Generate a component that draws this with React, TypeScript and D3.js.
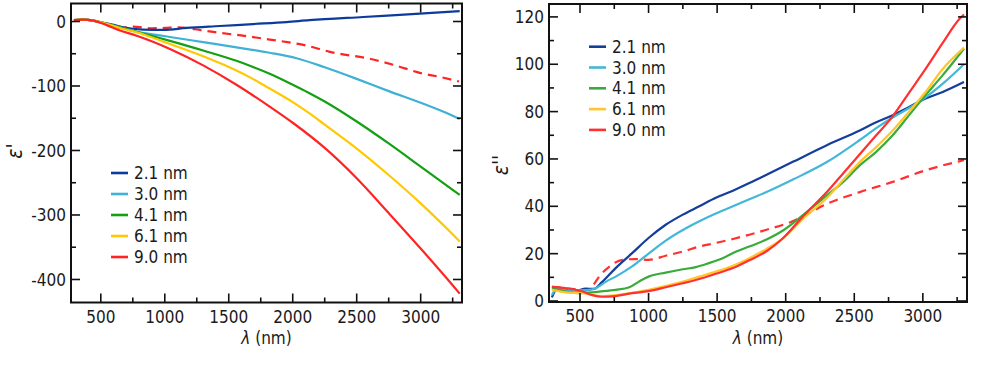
import React from "react";
import * as d3 from "d3";

type Pt = [number, number];

// ---------- Left panel: epsilon' ----------
const left21: Pt[] = [[290,2],[360,3],[450,1],[520,-2],[600,-5],[675,-9],[830,-12.5],[990,-13],[1170,-10],[1430,-7],[1690,-4],[1950,-1],[2130,2],[2550,7],[2900,11],[3305,16]];
const left30: Pt[] = [[290,2],[360,3],[450,1],[550,-4],[650,-9],[780,-15.6],[1040,-24],[1300,-32],[1560,-40],[1820,-48.5],[2030,-57],[2250,-71],[2500,-89],[2750,-108],[3000,-126],[3250,-146],[3305,-151]];
const left41: Pt[] = [[290,2],[360,3],[450,1],[550,-4],[650,-9],[780,-16],[910,-23],[1040,-30],[1300,-45],[1560,-61],[1670,-69],[1820,-81],[2000,-98],[2120,-110],[2250,-124],[2500,-155],[2750,-189],[3000,-225],[3250,-261],[3305,-269]];
const left61: Pt[] = [[290,2],[360,3],[450,1],[550,-4],[650,-10],[780,-16.6],[1040,-35],[1300,-54],[1560,-76],[1670,-87],[1820,-104],[2000,-125],[2120,-141],[2250,-160],[2500,-197],[2750,-238],[3000,-282],[3250,-330],[3305,-341]];
const left90: Pt[] = [[290,2],[360,3],[450,1],[550,-6],[650,-14],[780,-22],[1040,-42.5],[1300,-68],[1560,-98],[1820,-132],[2000,-157],[2250,-196],[2500,-243],[2750,-297],[3000,-352],[3250,-409],[3305,-422]];
const left90dash: Pt[] = [[290,2],[360,3],[450,1],[550,-5],[650,-10],[750,-8],[900,-10.5],[1000,-10],[1090,-9],[1300,-14],[1450,-18],[1610,-22],[1820,-28],[2100,-37],[2290,-47],[2630,-59],[2800,-68],[3000,-80],[3150,-86],[3300,-93]];

// ---------- Right panel: epsilon'' ----------
const right21: Pt[] = [[295,1.5],[330,5],[380,5.5],[420,4],[490,4.5],[540,5.2],[600,5.1],[660,8],[760,13.9],[880,20.2],[1000,26.6],[1125,32.2],[1250,36.5],[1370,40],[1490,43.6],[1615,46.6],[1735,49.8],[1820,52.2],[2060,59],[2300,65.8],[2540,72],[2660,75.5],[2780,78.5],[2900,82],[3020,85.5],[3145,88.3],[3300,92.5]];
const right30: Pt[] = [[295,2.5],[330,5],[380,5],[420,4],[490,4.5],[565,4.7],[615,5.4],[690,8.2],[760,10.3],[880,14.6],[1000,20],[1125,25.5],[1250,30],[1370,33.7],[1490,37],[1615,40],[1735,43],[1860,46],[2060,51.5],[2300,58.7],[2540,68],[2660,73],[2780,77.5],[2900,81.5],[3020,86],[3150,92],[3300,100]];
const right41: Pt[] = [[295,5.4],[350,4.7],[420,3.7],[490,3.3],[540,3.5],[640,4],[760,4.7],[860,5.8],[930,8.2],[1000,10.3],[1125,12],[1250,13.4],[1345,14.3],[1440,16],[1540,18.1],[1640,20.9],[1735,23],[1860,26],[1980,29.8],[2130,36.5],[2300,44.6],[2420,50.3],[2540,57.3],[2660,63],[2780,70],[2900,78.5],[3020,87],[3145,95.4],[3300,106.6]];
const right61: Pt[] = [[295,4.7],[420,3.5],[520,3.3],[590,2.5],[660,2.1],[760,2.5],[880,3.5],[1000,4.7],[1125,6.4],[1250,8.2],[1370,10.3],[1490,12.4],[1615,14.9],[1735,18.1],[1860,22],[1980,26.5],[2130,35],[2300,43.5],[2420,51.2],[2540,58.7],[2660,65],[2780,72],[2900,80],[3020,88.3],[3145,98],[3300,107]];
const right90: Pt[] = [[295,6],[400,5.4],[520,4],[590,2.5],[660,1.8],[760,2.1],[880,3.3],[1000,4.2],[1125,5.8],[1250,7.5],[1370,9.3],[1490,11.5],[1615,13.9],[1735,17.2],[1860,21],[1980,26.5],[2130,36],[2300,46],[2420,54],[2540,62],[2660,70],[2780,78],[2900,88],[3020,98],[3145,109],[3265,119],[3300,121]];
const right90dash: Pt[] = [[295,6],[400,5.4],[520,4.7],[570,4.7],[600,7],[640,10.3],[710,14.3],[810,17.4],[900,17.7],[1000,17.4],[1125,19.1],[1250,20.9],[1370,23],[1490,24.5],[1615,26.2],[1735,28],[1860,30.1],[2030,33.2],[2100,35],[2300,41],[2540,46],[2780,50.3],[3020,55.2],[3300,59.5]];

const legendLabels = ["2.1 nm", "3.0 nm", "4.1 nm", "6.1 nm", "9.0 nm"];
const leftColors = ["#0c3b9b", "#3fb1d5", "#13a013", "#ffc800", "#ff2424"];
const rightColors = ["#143d9c", "#42b7d8", "#3aab3a", "#ffc52a", "#ff3030"];

const xTicksMajor = [500, 1000, 1500, 2000, 2500, 3000];
const xTicksMinor = [250, 750, 1250, 1750, 2250, 2750, 3250];
const leftYMajor = [0, -100, -200, -300, -400];
const leftYMinor = [-50, -150, -250, -350];
const rightYMajor = [0, 20, 40, 60, 80, 100, 120];
const rightYMinor = [10, 30, 50, 70, 90, 110];

const FONT = "'DejaVu Sans Condensed','DejaVu Sans',sans-serif";
const TXT = "#1a1a1a";

interface PanelProps {
  x0: number; x1: number; y0: number; y1: number;
  xDomain: [number, number]; yDomain: [number, number];
  yMajor: number[]; yMinor: number[];
  solid: Pt[][]; colors: string[]; dashed: Pt[];
  legendX: number; legendY: number; legendStep: number;
  yLabel: string; yLabelX: number; yLabelY: number;
}

function Panel(p: PanelProps) {
  const x = d3.scaleLinear().domain(p.xDomain).range([p.x0, p.x1]);
  const y = d3.scaleLinear().domain(p.yDomain).range([p.y1, p.y0]);
  const line = d3.line<Pt>().x((d) => x(d[0])).y((d) => y(d[1])).curve(d3.curveMonotoneX);
  const majL = 9, minL = 5;
  const xMin = Math.min(...p.xDomain), xMax = Math.max(...p.xDomain);
  const inX = (v: number) => v > xMin && v < xMax;
  const yLo = p.yDomain[0], yHi = p.yDomain[1];
  const inY = (v: number) => v > yLo && v < yHi;
  return (
    <g>
      <clipPath id={`clip${p.x0}`}>
        <rect x={p.x0} y={p.y0} width={p.x1 - p.x0} height={p.y1 - p.y0} />
      </clipPath>
      <g clipPath={`url(#clip${p.x0})`}>
        <path d={line(p.dashed) || ""} fill="none" stroke={p.colors[4]} strokeWidth={2.2} strokeDasharray="9,6" />
        {p.solid.map((s, i) => (
          <path key={i} d={line(s) || ""} fill="none" stroke={p.colors[i]} strokeWidth={2.2} strokeLinejoin="round" />
        ))}
      </g>
      {xTicksMajor.filter(inX).map((t) => (
        <g key={"xM" + t}>
          <line x1={x(t)} x2={x(t)} y1={p.y1} y2={p.y1 - majL} stroke="#111" strokeWidth={1.6} />
          <line x1={x(t)} x2={x(t)} y1={p.y0} y2={p.y0 + majL} stroke="#111" strokeWidth={1.6} />
          <text x={x(t)} y={p.y1 + 20} textAnchor="middle" fontSize={17} fontFamily={FONT} fill={TXT}>{t}</text>
        </g>
      ))}
      {xTicksMinor.filter(inX).map((t) => (
        <g key={"xm" + t}>
          <line x1={x(t)} x2={x(t)} y1={p.y1} y2={p.y1 - minL} stroke="#111" strokeWidth={1.6} />
          <line x1={x(t)} x2={x(t)} y1={p.y0} y2={p.y0 + minL} stroke="#111" strokeWidth={1.6} />
        </g>
      ))}
      {p.yMajor.filter((v) => v >= yLo && v <= yHi).map((t) => (
        <g key={"yM" + t}>
          <line x1={p.x0} x2={p.x0 + majL} y1={y(t)} y2={y(t)} stroke="#111" strokeWidth={1.6} />
          <line x1={p.x1} x2={p.x1 - majL} y1={y(t)} y2={y(t)} stroke="#111" strokeWidth={1.6} />
          <text x={p.x0 - 5} y={y(t)} dy="0.36em" textAnchor="end" fontSize={17} fontFamily={FONT} fill={TXT}>{t}</text>
        </g>
      ))}
      {p.yMinor.filter(inY).map((t) => (
        <g key={"ym" + t}>
          <line x1={p.x0} x2={p.x0 + minL} y1={y(t)} y2={y(t)} stroke="#111" strokeWidth={1.6} />
          <line x1={p.x1} x2={p.x1 - minL} y1={y(t)} y2={y(t)} stroke="#111" strokeWidth={1.6} />
        </g>
      ))}
      <rect x={p.x0} y={p.y0} width={p.x1 - p.x0} height={p.y1 - p.y0} fill="none" stroke="#111" strokeWidth={2} />
      {legendLabels.map((lab, i) => (
        <g key={lab}>
          <line x1={p.legendX} x2={p.legendX + 17} y1={p.legendY + i * p.legendStep} y2={p.legendY + i * p.legendStep} stroke={p.colors[i]} strokeWidth={2.6} />
          <text x={p.legendX + 23} y={p.legendY + i * p.legendStep} dy="0.36em" fontSize={17} fontFamily={FONT} fill={TXT}>{lab}</text>
        </g>
      ))}
      <text x={(p.x0 + p.x1) / 2} y={344} textAnchor="middle" fontSize={17} fontFamily={FONT} fill={TXT}>
        <tspan fontStyle="italic">λ</tspan> (nm)
      </text>
      <text transform={`translate(${p.yLabelX},${p.yLabelY}) rotate(-90)`} textAnchor="middle" fontSize={21} fontFamily={FONT} fontStyle="italic" fill={TXT}>
        {p.yLabel}
      </text>
    </g>
  );
}

export default function App() {
  return (
    <svg width={985} height={369} style={{ position: "absolute", left: 0, top: 0, background: "#fff" }}>
      <rect width={985} height={369} fill="#fff" />
      <Panel
        x0={71} x1={462} y0={3.5} y1={302.5}
        xDomain={[267, 3323]} yDomain={[-435.7, 27.9]}
        yMajor={leftYMajor} yMinor={leftYMinor}
        solid={[left21, left30, left41, left61, left90]} colors={leftColors} dashed={left90dash}
        legendX={111} legendY={173} legendStep={21}
        yLabel="ε'" yLabelX={22} yLabelY={151}
      />
      <Panel
        x0={549} x1={967} y0={4} y1={302}
        xDomain={[274, 3322]} yDomain={[-0.42, 125.45]}
        yMajor={rightYMajor} yMinor={rightYMinor}
        solid={[right21, right30, right41, right61, right90]} colors={rightColors} dashed={right90dash}
        legendX={589} legendY={46.7} legendStep={20.8}
        yLabel="ε''" yLabelX={508} yLabelY={165}
      />
    </svg>
  );
}
